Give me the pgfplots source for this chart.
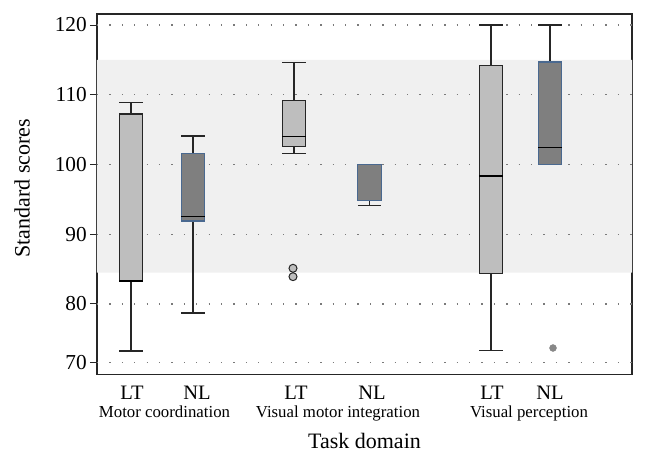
\documentclass[border=0pt]{standalone}
\usepackage{fontspec}
\setmainfont{Liberation Serif}
\usepackage{pgfplots}
\pgfplotsset{compat=1.18}
\definecolor{ltfill}{HTML}{BEBEBE}
\definecolor{nlfill}{HTML}{7F7F7F}
\definecolor{nlborder}{HTML}{4A6990}
\definecolor{axisdark}{HTML}{262626}
\definecolor{bandgray}{HTML}{F0F0F0}
\definecolor{gridgray}{HTML}{7A7A7A}
\definecolor{outgray}{HTML}{888888}
\pgfplotsset{
  ltbox/.style={fill=ltfill, draw=axisdark},
  nlbox/.style={fill=nlfill, draw=nlborder},
  nvbox/.style={fill=nlfill, draw=nlborder},
  ltmed/.style={draw=black},
  nlmed/.style={draw=black},
  nvmed/.style={draw=nlborder},
  gridline/.style={gridgray, line width=1.3pt, dash pattern=on 1.3pt off 11.1pt},
}
% #1 left, #2 centre, #3 right, #4 lower whisker, #5 lower quartile,
% #6 median, #7 upper quartile, #8 upper whisker, #9 style prefix
\newcommand{\bx}[9]{%
  \addplot[axisdark, line width=1.2pt] coordinates {(#2,#4) (#2,#5)};
  \addplot[axisdark, line width=1.2pt] coordinates {(#2,#7) (#2,#8)};
  \addplot[axisdark, line width=1.2pt] coordinates {(#1,#4) (#3,#4)};
  \addplot[axisdark, line width=1.2pt] coordinates {(#1,#8) (#3,#8)};
  \addplot[#9box, line width=1.2pt, line cap=rect] coordinates {(#1,#5) (#3,#5) (#3,#7) (#1,#7) (#1,#5)};
  \addplot[#9med, line width=1.2pt] coordinates {(#1,#6) (#3,#6)};
}
\begin{document}
\begin{tikzpicture}
\begin{axis}[
  scale only axis, width=535pt, height=360.3pt,
  at={(0pt,0pt)}, anchor=south west,
  xmin=0, xmax=53.5, ymin=69.92, ymax=121.58,
  ytick={71.58,80,90,100,110,120}, yticklabels={70,80,90,100,110,120},
  xtick={3.5,10.0,19.9,27.5,39.5,45.3}, xticklabels={LT,NL,LT,NL,LT,NL},
  /pgf/number format/assume math mode=true,
  x tick style={draw=none},
  y tick style={draw=axisdark, line width=1pt},
  tick align=outside, major tick length=7pt,
  ytick pos=left, xtick pos=bottom,
  axis line style={draw=axisdark, line width=1.2pt},
  yticklabel style={font=\fontsize{21.3}{25}\selectfont, inner sep=0pt, anchor=east, xshift=-3pt},
  xticklabel style={font=\fontsize{20.5}{24}\selectfont, inner sep=0pt, anchor=base, yshift=-18pt},
  ylabel={Standard scores},
  ylabel style={at={(axis description cs:-0.1402,0.517)}, anchor=center, font=\fontsize{22}{26}\selectfont},
  xlabel={Task domain},
  xlabel style={at={(axis description cs:0.5,0)}, anchor=base, yshift=-74pt, inner sep=0pt, font=\fontsize{22}{26}\selectfont},
]
% reference band
\addplot[fill=bandgray, draw=none] coordinates {(0,84.5) (53.5,84.5) (53.5,115) (0,115) (0,84.5)};
% dotted grid lines
\addplot[gridline] coordinates {(0,71.58) (53.5,71.58)};
\addplot[gridline] coordinates {(0,80) (53.5,80)};
\addplot[gridline] coordinates {(0,90) (53.5,90)};
\addplot[gridline] coordinates {(0,100) (53.5,100)};
\addplot[gridline] coordinates {(0,110) (53.5,110)};
\addplot[gridline] coordinates {(0,120) (53.5,120)};

% boxes: left, centre, right, lower whisker, Q1, median, Q3, upper whisker
\bx{2.225}{3.4}{4.575}{73.26}{83.3}{83.3}{107.24}{108.86}{lt}
\bx{8.425}{9.6}{10.775}{78.71}{91.9}{92.52}{101.6}{104.09}{nl}
\bx{18.525}{19.7}{20.875}{101.6}{102.55}{104.04}{109.15}{114.65}{lt}
\bx{26.075}{27.25}{28.425}{94.15}{94.87}{99.97}{99.97}{99.97}{nv}
\bx{38.225}{39.4}{40.575}{73.3}{84.4}{98.35}{114.17}{120}{lt}
\bx{44.125}{45.3}{46.475}{99.97}{99.97}{102.46}{114.7}{120}{nl}

% outliers
\addplot[only marks, mark=*, mark size=4pt, mark options={fill=ltfill, draw=axisdark, line width=1pt}] coordinates {(19.6,85.12) (19.6,83.92)};
\addplot[only marks, mark=*, mark size=3.5pt, mark options={fill=outgray, draw=outgray}] coordinates {(45.6,73.69)};
\end{axis}
\node[anchor=base, inner sep=0pt, font=\fontsize{16.8}{20}\selectfont] at (67.5pt,-43pt) {Motor coordination};
\node[anchor=base, inner sep=0pt, font=\fontsize{16.8}{20}\selectfont] at (241pt,-43pt) {Visual motor integration};
\node[anchor=base, inner sep=0pt, font=\fontsize{16.8}{20}\selectfont] at (432pt,-43pt) {Visual perception};
\path (-97pt,-88.7pt) rectangle (549pt,374.3pt);
\end{tikzpicture}
\end{document}
